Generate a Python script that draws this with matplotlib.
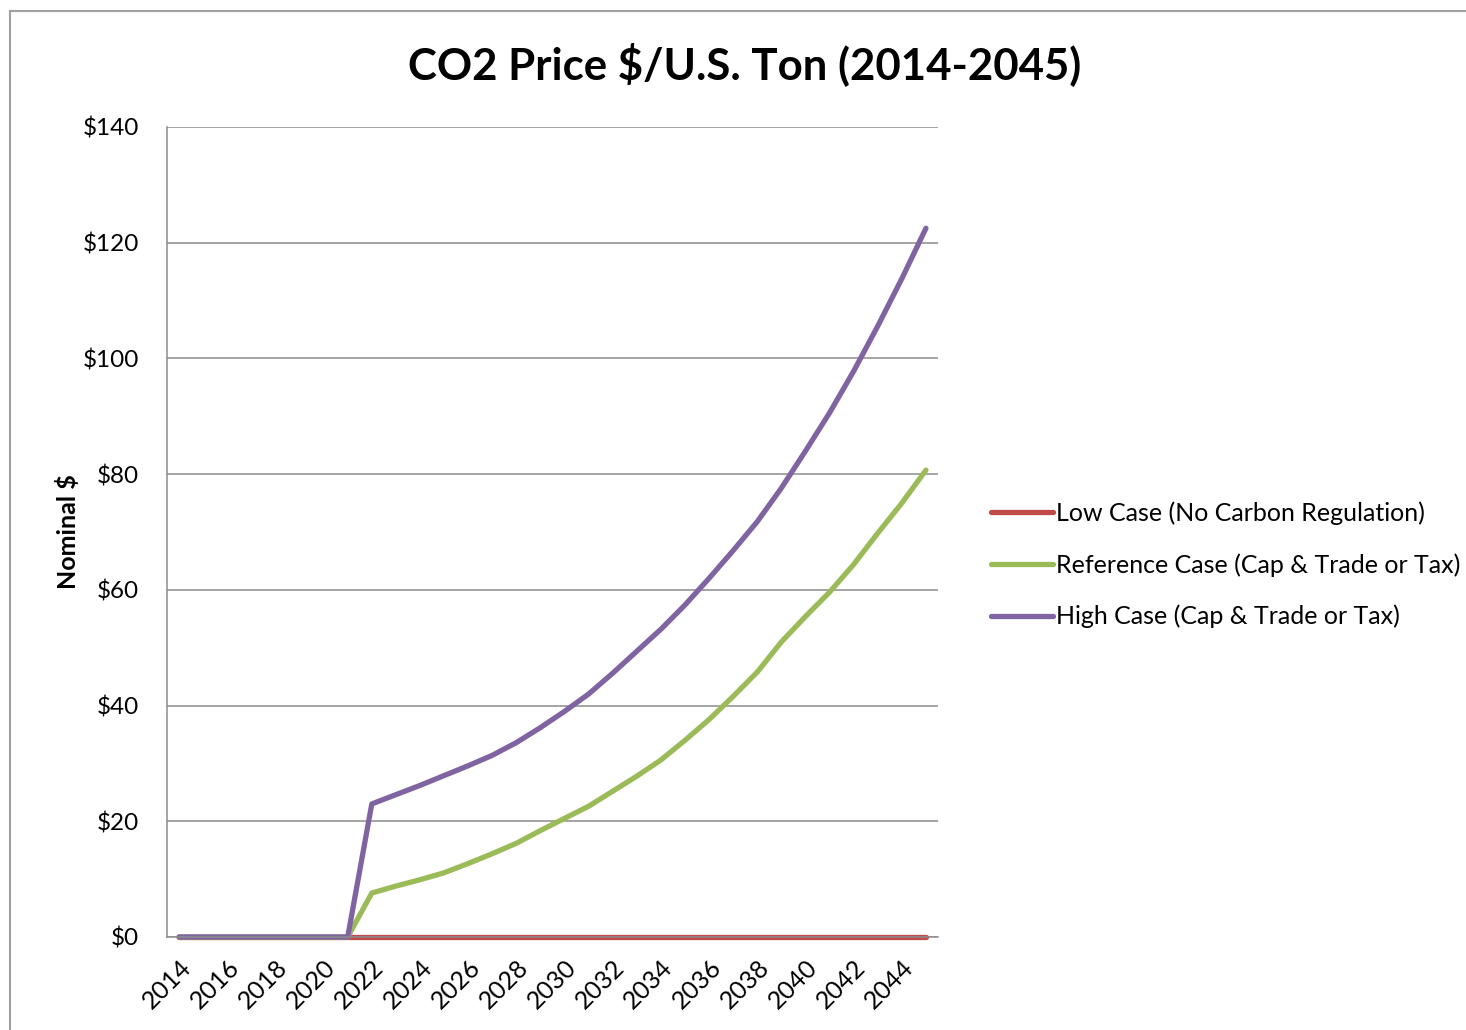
import numpy as np
import matplotlib
matplotlib.use("Agg")
import matplotlib.pyplot as plt
from matplotlib.lines import Line2D

years = list(range(2014, 2046))

low_case = [0.0] * 32

reference_case = [0, 0, 0, 0, 0, 0, 0, 0,
                  7.6, 8.8, 9.9, 11.1, 12.7, 14.4, 16.2, 18.4, 20.5, 22.6,
                  25.2, 27.8, 30.6, 34.0, 37.6, 41.6, 45.8, 51.0, 55.4, 59.6,
                  64.4, 69.8, 75.0, 80.7]

high_case = [0, 0, 0, 0, 0, 0, 0, 0,
             23.0, 24.6, 26.2, 27.9, 29.6, 31.4, 33.6, 36.2, 39.0, 42.0,
             45.6, 49.4, 53.2, 57.4, 62.0, 66.8, 71.8, 77.6, 84.0, 90.6,
             97.8, 105.6, 113.8, 122.5]

series_names = ["Low Case (No Carbon Regulation)",
                "Reference Case (Cap & Trade or Tax)",
                "High Case (Cap & Trade or Tax)"]
series_colors = ["#BE4B48", "#9BBB59", "#8064A2"]

y_ticks = list(range(0, 141, 20))

FONT = "Lato"

if __name__ == "__main__":
    fig = plt.figure(figsize=(14.66, 10.30), dpi=100)
    ax = fig.add_axes([167 / 1466, 93 / 1030, 771 / 1466, 810 / 1030])

    x = np.arange(len(years))
    for values, name, color in zip([low_case, reference_case, high_case],
                                   series_names, series_colors):
        ax.plot(x, values, color=color, lw=3.8, label=name, clip_on=False,
                solid_capstyle="round", solid_joinstyle="round")

    ax.set_xlim(-0.5, len(years) - 0.5)
    ax.set_ylim(0, 140)

    ax.set_yticks(y_ticks)
    ax.set_yticklabels([f"${v}" for v in y_ticks], fontsize=17.5, family=FONT)
    ax.yaxis.grid(True, color="#8c8c8c", lw=1.1)
    ax.set_axisbelow(True)

    ax.set_xticks(x[::2])
    ax.set_xticklabels([str(y) for y in years[::2]], rotation=45,
                       ha="right", va="top", rotation_mode="anchor",
                       fontsize=18, family=FONT)

    ax.tick_params(axis="y", length=0, pad=20)
    ax.tick_params(axis="x", length=0, pad=13)

    for side in ["top", "right"]:
        ax.spines[side].set_visible(False)
    ax.spines["left"].set_color("#8c8c8c")
    ax.spines["bottom"].set_color("#8c8c8c")
    ax.spines["left"].set_linewidth(1.1)
    ax.spines["bottom"].set_linewidth(1.1)

    ax.set_ylabel("Nominal $", fontsize=18, fontweight="bold", family=FONT,
                  labelpad=2)

    fig.text(745 / 1466, 1 - 64 / 1030, "CO2 Price $/U.S. Ton (2014-2045)",
             ha="center", va="center", fontsize=31.5, fontweight="bold",
             family=FONT)

    ax.legend(loc="center left", bbox_to_anchor=(968 / 1466, 1 - 565 / 1030),
              bbox_transform=fig.transFigure, frameon=False,
              prop={"family": FONT, "size": 18}, handlelength=2.5,
              handletextpad=0.1, labelspacing=1.12)

    # outer chart frame
    fig.add_artist(Line2D([10 / 1466, 10 / 1466], [0, 1 - 11 / 1030],
                          transform=fig.transFigure, color="#a0a0a0", lw=1.5))
    fig.add_artist(Line2D([10 / 1466, 1], [1 - 11 / 1030, 1 - 11 / 1030],
                          transform=fig.transFigure, color="#a0a0a0", lw=1.5))

    fig.savefig("out.png", dpi=100)
